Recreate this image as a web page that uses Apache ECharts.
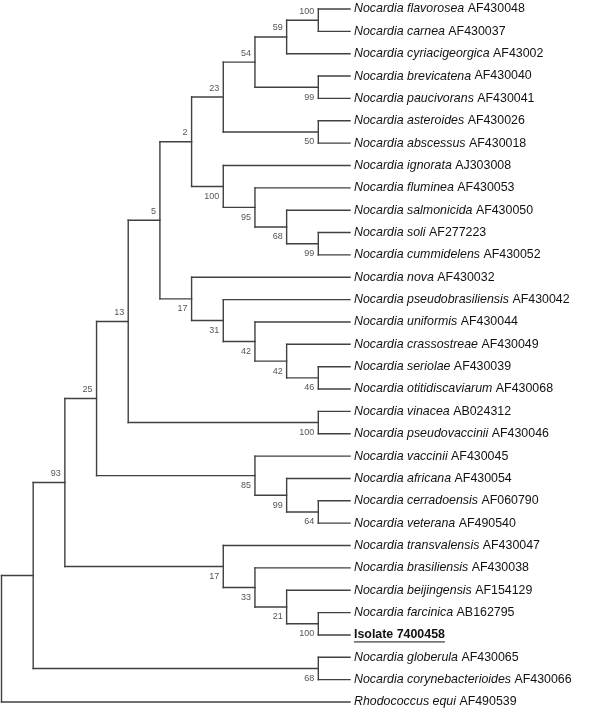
<!DOCTYPE html>
<html><head><meta charset="utf-8">
<script src="https://cdn.jsdelivr.net/npm/echarts@6/dist/echarts.min.js"></script>
<style>html,body{margin:0;padding:0;background:#fff}#c{width:600px;height:709px}</style>
</head><body><div id="c"></div>
<script>
// ---- Leaves (top to bottom) ----
const leafSpecies = [
  'Nocardia flavorosea','Nocardia carnea','Nocardia cyriacigeorgica','Nocardia brevicatena',
  'Nocardia paucivorans','Nocardia asteroides','Nocardia abscessus','Nocardia ignorata',
  'Nocardia fluminea','Nocardia salmonicida','Nocardia soli','Nocardia cummidelens',
  'Nocardia nova','Nocardia pseudobrasiliensis','Nocardia uniformis','Nocardia crassostreae',
  'Nocardia seriolae','Nocardia otitidiscaviarum','Nocardia vinacea','Nocardia pseudovaccinii',
  'Nocardia vaccinii','Nocardia africana','Nocardia cerradoensis','Nocardia veterana',
  'Nocardia transvalensis','Nocardia brasiliensis','Nocardia beijingensis','Nocardia farcinica',
  'Isolate 7400458','Nocardia globerula','Nocardia corynebacterioides','Rhodococcus equi'
];
const leafAccessions = [
  'AF430048','AF430037','AF43002','AF430040','AF430041','AF430026','AF430018','AJ303008',
  'AF430053','AF430050','AF277223','AF430052','AF430032','AF430042','AF430044','AF430049',
  'AF430039','AF430068','AB024312','AF430046','AF430045','AF430054','AF060790','AF490540',
  'AF430047','AF430038','AF154129','AB162795','','AF430065','AF430066','AF490539'
];
const highlightedLeaves = [28];

// ---- Internal nodes (cladogram levels, bootstrap support, children) ----
const nodeIds =      ['root','nA','nB','nC','nD','nE','nF','n23','n54','n59','n100a','n99a','n50','n100b','n95','n68a','n99b','n17a','n31','n42a','n42b','n46','nV','n85','n99c','n64','nT','n33','n21','n100c','nG'];
const nodeLevels =   [0,1,2,3,4,5,6,7,8,9,10,10,10,7,8,9,10,6,7,8,9,10,10,8,9,10,7,8,9,10,10];
const nodeSupport =  ['','','93','25','13','5','2','23','54','59','100','99','50','100','95','68','99','17','31','42','42','46','100','85','99','64','17','33','21','100','68'];
const nodeChildren = [
  ['nA','L31'],['nB','nG'],['nC','nT'],['nD','n85'],['nE','nV'],['nF','n17a'],['n23','n100b'],
  ['n54','n50'],['n59','n99a'],['n100a','L2'],['L0','L1'],['L3','L4'],['L5','L6'],
  ['L7','n95'],['L8','n68a'],['L9','n99b'],['L10','L11'],['L12','n31'],['L13','n42a'],
  ['L14','n42b'],['L15','n46'],['L16','L17'],['L18','L19'],['L20','n99c'],['L21','n64'],
  ['L22','L23'],['L24','n33'],['L25','n21'],['L26','n100c'],['L27','L28'],['L29','L30']
];
const leafLevel = 11;

// ---- layout from topology ----
const idx = {}; nodeIds.forEach((id,i)=>idx[id]=i);
function posOf(ref){
  if(ref[0]==='L'){ return {x:leafLevel, y:+ref.slice(1)}; }
  const i = idx[ref];
  const ch = nodeChildren[i].map(posOf);
  return {x:nodeLevels[i], y:(ch[0].y + ch[ch.length-1].y)/2};
}
const segs = [];
const supportPts = [];
const upperChild = {};
nodeIds.forEach((id,i)=>{ upperChild[nodeChildren[i][0]] = true; });
nodeIds.forEach((id,i)=>{
  const me = posOf(id);
  const ch = nodeChildren[i].map(posOf);
  segs.push([me.x, ch[0].y, me.x, ch[ch.length-1].y]);
  ch.forEach(c=>segs.push([me.x, c.y, c.x, c.y]));
  if(nodeSupport[i] !== '') supportPts.push([me.x, me.y, upperChild[id]?1:0, nodeSupport[i]]);
});
const leafPts = leafSpecies.map((s,i)=>[leafLevel, i, highlightedLeaves.indexOf(i)>=0?1:0]);

const FONT = '"Liberation Sans", Arial, sans-serif';
const FS = 12.4;
const mctx = document.createElement('canvas').getContext('2d');

const chart = echarts.init(document.getElementById('c'), null, {renderer:'canvas'});
chart.setOption({
  animation:false,
  backgroundColor:'#fff',
  grid:{left:1.5, right:250, top:9, bottom:7},
  xAxis:{type:'value', min:0, max:leafLevel, show:false},
  yAxis:{type:'value', min:0, max:leafSpecies.length-1, inverse:true, show:false},
  series:[
    {
      type:'custom', coordinateSystem:'cartesian2d', clip:false,
      data:segs, encode:{x:[0,2], y:[1,3]},
      renderItem:function(params, api){
        const p1 = api.coord([api.value(0), api.value(1)]);
        const p2 = api.coord([api.value(2), api.value(3)]);
        return {type:'line', shape:{x1:p1[0], y1:p1[1], x2:p2[0], y2:p2[1]},
          style:{stroke:'#404040', lineWidth:1.4, lineCap:'square'}};
      }
    },
    {
      type:'custom', coordinateSystem:'cartesian2d', clip:false,
      data:supportPts, encode:{x:0, y:1},
      renderItem:function(params, api){
        const d = supportPts[params.dataIndex];
        const p = api.coord([d[0], d[1]]);
        return {type:'text', x:p[0]-4, y:p[1] + (d[2] ? -9 : 10),
          style:{text:d[3], fill:'#555', font:'9px '+FONT, align:'right', verticalAlign:'middle'}};
      }
    },
    {
      type:'custom', coordinateSystem:'cartesian2d', clip:false,
      data:leafPts, encode:{x:0, y:1},
      renderItem:function(params, api){
        const i = params.dataIndex;
        const p = api.coord([api.value(0), api.value(1)]);
        const x = p[0] + 4, y = p[1];
        if(leafPts[i][2]){
          mctx.font = 'bold ' + FS + 'px ' + FONT;
          const w = mctx.measureText(leafSpecies[i]).width;
          return {type:'group', children:[
            {type:'text', x:x, y:y, style:{text:leafSpecies[i], fill:'#111', font:'bold '+FS+'px '+FONT, align:'left', verticalAlign:'middle'}},
            {type:'line', shape:{x1:x, y1:y+7, x2:x+w, y2:y+7}, style:{stroke:'#111', lineWidth:1}}
          ]};
        }
        return {type:'text', x:x, y:y, style:{
          text:'{i|'+leafSpecies[i]+'} {n|'+leafAccessions[i]+'}',
          fill:'#111', fontSize:FS, fontFamily:FONT, verticalAlign:'middle', align:'left',
          rich:{
            i:{fontStyle:'italic', fontSize:FS, fontFamily:FONT, fill:'#111'},
            n:{fontSize:FS, fontFamily:FONT, fill:'#111'}
          }
        }};
      }
    }
  ]
});
</script>
</body></html>
